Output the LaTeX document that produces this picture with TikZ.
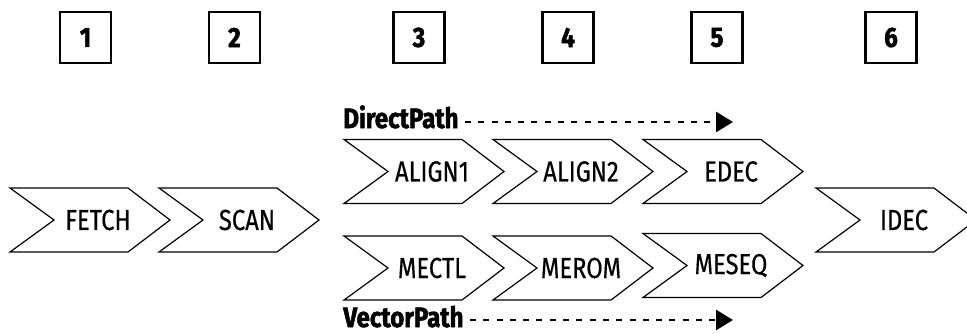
\documentclass[tikz,border=0pt]{standalone}
\usepackage{fontspec}
\setmainfont{Fira Sans}[FakeStretch=0.82,FakeBold=0.4]
\newfontfamily\headfont{Fira Sans}[FakeStretch=0.86,BoldFeatures={FakeBold=1.8}]
\usetikzlibrary{arrows.meta}
\tikzset{
	numbox/.style={draw,line width=1.3pt,minimum size=25.5pt,inner sep=0pt,font=\headfont\bfseries\fontsize{14}{14}\selectfont},
	chev/.style={line width=0.6pt,line join=miter},
	stagelabel/.style={inner sep=0pt,font=\fontsize{14.5}{14.5}\selectfont},
	pathlabel/.style={inner sep=0pt,anchor=base west,font=\headfont\bfseries\fontsize{14}{14}\selectfont},
	dasharrow/.style={line width=1.4pt,dash pattern=on 3pt off 3.65pt,shorten <=3pt,-{Triangle[length=8.5pt,width=10pt]}}
}
\begin{document}
\begin{tikzpicture}[x=0.5pt,y=-0.5pt]
	\useasboundingbox (0,0) rectangle (967,333);
	% stage numbers
	\foreach \n/\x in {1/85.5,2/234.5,3/419,4/568,5/717,6/891}
		\node[numbox] (n\n) at (\x,37.5) {\n};
	% chevrons: name/left/centre y/text
	\foreach \name/\l/\y/\txt in {fetch/10/220/FETCH,scan/159/220/SCAN,
			alignA/344/171.5/ALIGN1,alignB/493/171.5/ALIGN2,edec/643/171.5/EDEC,
			mectl/344/268/MECTL,merom/493/268/MEROM,meseq/643/265.5/MESEQ,
			idec/816/220/IDEC}{
		\draw[chev] (\l,\y-32)--++(118,0)--++(42,32)--++(-42,32)--++(-118,0)--++(44,-32)--cycle;
		\node[stagelabel] (\name) at (\l+88,\y) {\txt};
	}
	% paths
	\node[pathlabel] (dp) at (343,128) {DirectPath};
	\node[pathlabel] (vp) at (343,327) {VectorPath};
	\coordinate (dpend) at (733,122);
	\coordinate (vpend) at (733,320);
	\draw[dasharrow] (dp.east|-dpend)--(dpend);
	\draw[dasharrow] (vp.east|-vpend)--(vpend);
\end{tikzpicture}
\end{document}
